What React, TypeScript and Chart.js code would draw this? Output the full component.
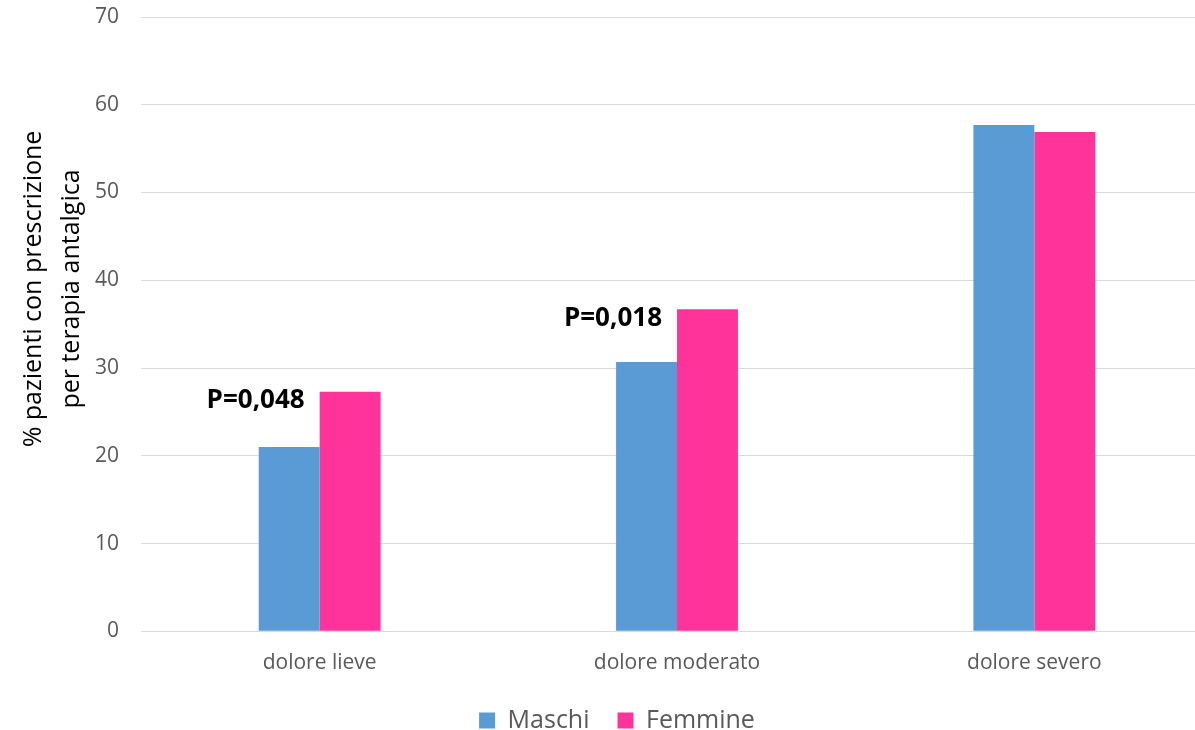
import React, { useEffect, useRef } from "react";
import { Chart, registerables } from "chart.js";

Chart.register(...registerables);

const categories = ["dolore lieve", "dolore moderato", "dolore severo"];
const seriesNames = ["Maschi", "Femmine"];
const maschi = [21.0, 30.7, 57.7];
const femmine = [27.3, 36.7, 56.9];
const pValueLabels = ["P=0,048", "P=0,018", ""];
const yTitleLines = ["% pazienti con prescrizione", "per terapia antalgica"];
const yMin = 0;
const yMax = 70;
const yStep = 10;

const FONT = "'Open Sans', sans-serif";
const GREY = "#595959";

const annotationPlugin = {
  id: "pAnnotations",
  afterDatasetsDraw(chart: any) {
    const ctx = chart.ctx;
    const meta = chart.getDatasetMeta(1);
    ctx.save();
    ctx.font = `bold 26px ${FONT}`;
    ctx.fillStyle = "#000000";
    ctx.textAlign = "right";
    ctx.textBaseline = "middle";
    pValueLabels.forEach((label, i) => {
      if (!label) return;
      const bar = meta.data[i];
      const left = bar.x - bar.width / 2;
      ctx.fillText(label, left - 15, bar.y + 9);
    });
    ctx.restore();
  },
};

const yTitlePlugin = {
  id: "yTitle",
  afterDraw(chart: any) {
    const ctx = chart.ctx;
    ctx.save();
    ctx.font = `25px ${FONT}`;
    ctx.fillStyle = "#000000";
    ctx.textAlign = "center";
    ctx.textBaseline = "middle";
    const cy = 289;
    const xs = [34, 72];
    yTitleLines.forEach((line, i) => {
      ctx.save();
      ctx.translate(xs[i], cy);
      ctx.rotate(-Math.PI / 2);
      ctx.fillText(line, 0, 0);
      ctx.restore();
    });
    ctx.restore();
  },
};

export default function App() {
  const ref = useRef<HTMLCanvasElement>(null);

  useEffect(() => {
    if (!ref.current) return;
    const chart = new Chart(ref.current, {
      type: "bar",
      data: {
        labels: categories,
        datasets: [
          {
            label: seriesNames[0],
            data: maschi,
            backgroundColor: "#5B9BD5",
            borderWidth: 0,
            categoryPercentage: 0.341,
            barPercentage: 1,
          },
          {
            label: seriesNames[1],
            data: femmine,
            backgroundColor: "#FF3399",
            borderWidth: 0,
            categoryPercentage: 0.341,
            barPercentage: 1,
          },
        ],
      },
      options: {
        responsive: false,
        animation: false,
        devicePixelRatio: 1,
        layout: { padding: { left: 21, right: 21, top: 17, bottom: -13 } },
        plugins: {
          title: { display: false },
          tooltip: { enabled: false },
          legend: {
            position: "bottom",
            labels: {
              font: { family: FONT, size: 25 },
              color: GREY,
              boxWidth: 16,
              boxHeight: 16,
              padding: 28,
            },
          },
        },
        scales: {
          x: {
            grid: { display: false, drawTicks: false },
            border: { display: true, color: "#d9d9d9", width: 1 },
            ticks: {
              font: { family: FONT, size: 21 },
              color: GREY,
              padding: 19,
            },
            afterFit(scale: any) {
              scale.height = scale.height - 14.5;
            },
          },
          y: {
            min: yMin,
            max: yMax,
            grid: { color: "#d9d9d9", lineWidth: 1, drawTicks: false },
            border: { display: false },
            ticks: {
              stepSize: yStep,
              font: { family: FONT, size: 21 },
              color: GREY,
              padding: 22,
            },
            afterFit(scale: any) {
              scale.width = 120;
              scale.paddingTop = 0;
              scale.paddingBottom = 0;
            },
          },
        },
      },
      plugins: [annotationPlugin, yTitlePlugin],
    });
    return () => chart.destroy();
  }, []);

  return (
    <div style={{ position: "fixed", left: 0, top: 0, width: 1195, height: 730, overflow: "hidden", background: "#fff" }}>
      <canvas ref={ref} width={1234} height={730} style={{ display: "block" }} />
    </div>
  );
}
